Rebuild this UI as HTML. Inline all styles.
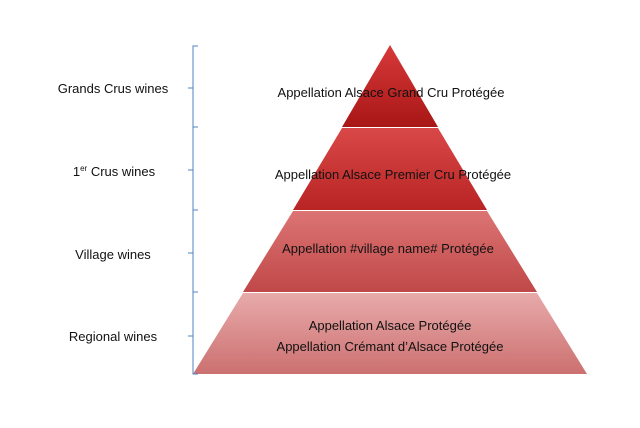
<!DOCTYPE html>
<html><head><meta charset="utf-8"><style>
html,body{margin:0;padding:0;background:#fff;}
svg text{font-family:"Liberation Sans",sans-serif;font-size:13px;fill:#111;}
</style></head><body>
<svg width="640" height="423" viewBox="0 0 640 423" xmlns="http://www.w3.org/2000/svg">
<defs>
<linearGradient id="g1" x1="0" y1="0" x2="0" y2="1"><stop offset="0" stop-color="#d83a3a"/><stop offset="1" stop-color="#a81616"/></linearGradient>
<linearGradient id="g2" x1="0" y1="0" x2="0" y2="1"><stop offset="0" stop-color="#d94848"/><stop offset="1" stop-color="#b92424"/></linearGradient>
<linearGradient id="g3" x1="0" y1="0" x2="0" y2="1"><stop offset="0" stop-color="#dc7474"/><stop offset="1" stop-color="#c04848"/></linearGradient>
<linearGradient id="g4" x1="0" y1="0" x2="0" y2="1"><stop offset="0" stop-color="#e8aaaa"/><stop offset="1" stop-color="#cc7070"/></linearGradient>
</defs>
<polygon points="390,45 438,127 342,127" fill="url(#g1)"/>
<polygon points="342,128 438,128 487,210 293,210" fill="url(#g2)"/>
<polygon points="293,211 487,211 537,292 243,292" fill="url(#g3)"/>
<polygon points="243,293 537,293 587,374 193,374" fill="url(#g4)"/>
<g stroke="#4f83c0" stroke-width="1" fill="none">
<path d="M198,46 H193 V374 H198"/>
<path d="M193,127 H198 M193,210 H198 M193,292 H198"/>
<path d="M193,88 H188 M193,170 H188 M193,253 H188 M193,336 H188"/>
</g>
<g text-anchor="middle">
<text x="391" y="97">Appellation Alsace Grand Cru Protégée</text>
<text x="393" y="179">Appellation Alsace Premier Cru Protégée</text>
<text x="388" y="253">Appellation #village name# Protégée</text>
<text x="390" y="330">Appellation Alsace Protégée</text>
<text x="390" y="351">Appellation Crémant d’Alsace Protégée</text>
<text x="113" y="93">Grands Crus wines</text>
<text x="114" y="176">1<tspan font-size="8" dy="-5">er</tspan><tspan dy="5"> Crus wines</tspan></text>
<text x="113" y="259">Village wines</text>
<text x="113" y="341">Regional wines</text>
</g>
</svg>
</body></html>
